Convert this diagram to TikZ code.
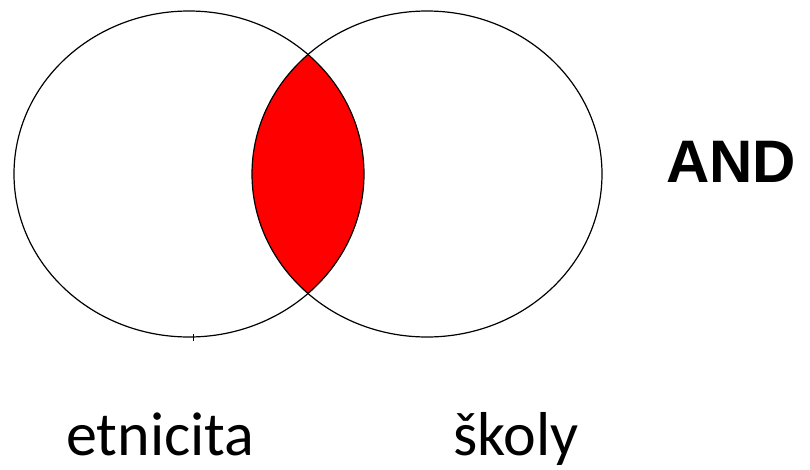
\documentclass[tikz,border=0pt]{standalone}
\usepackage{fontspec}
\setmainfont{Carlito}
\newfontfamily\andfont{Liberation Sans Bold}
\tikzset{
  setline/.style={draw=black, line width=1.2pt},
  label/.style={inner sep=0pt, anchor=base west, font=\fontsize{62}{70}\selectfont},
}
\begin{document}
\begin{tikzpicture}[x=1pt,y=-1pt]
\useasboundingbox[fill=white] (0,0) rectangle (810,469);
\begin{scope}
  \clip (189,174) ellipse [x radius=175, y radius=163];
  \fill[red] (427,174) ellipse [x radius=175, y radius=163];
\end{scope}
\draw[setline] (189,174) ellipse [x radius=175, y radius=163];
\draw[setline] (427,174) ellipse [x radius=175, y radius=163];
\coordinate (t1) at (193,334);
\coordinate (t2) at (193,341);
\draw[line width=1pt] (t1) -- (t2);
\node[label] (a) at (66,455) {etnicita};
\node[label] (b) at (453,455) {školy};
\node[inner sep=0pt, anchor=base west, font=\andfont\fontsize{60}{70}\selectfont] (op) at (666,182) {AND};
\end{tikzpicture}
\end{document}
